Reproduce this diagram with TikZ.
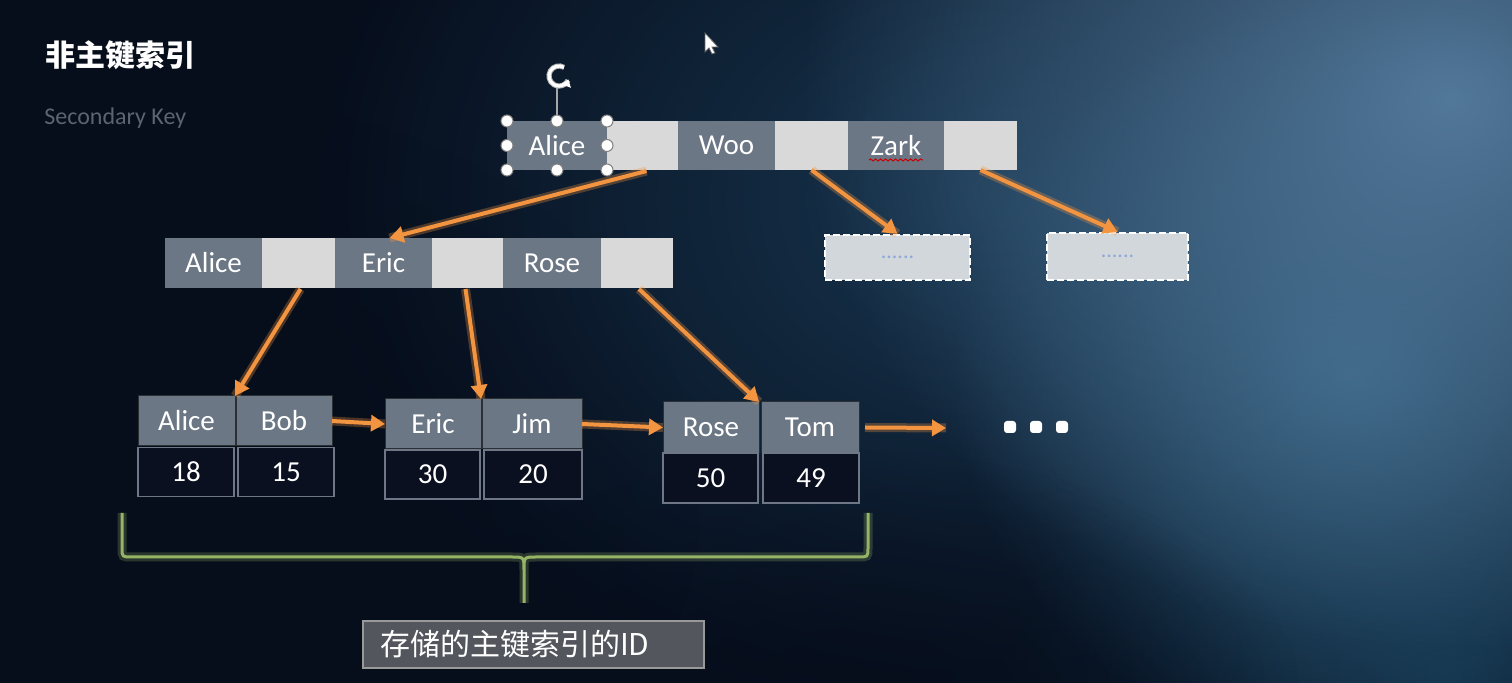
\documentclass[tikz,border=0pt]{standalone}
\usepackage{fontspec}
\setmainfont{Carlito}
\newfontfamily\cjk{Noto Sans CJK SC}
\usetikzlibrary{arrows.meta,calc,fadings,decorations.pathmorphing}

\tikzfading[name=softblob, inner color=transparent!0, outer color=transparent!100]

\definecolor{bgbase}{HTML}{060D1B}
\definecolor{bgglow}{HTML}{52789A}
\definecolor{bgmid}{HTML}{183650}
\definecolor{bgteal}{HTML}{33607F}
\definecolor{bgdeep}{HTML}{12324A}
\definecolor{cellgray}{HTML}{6B7785}
\definecolor{celllight}{HTML}{D9D9D9}
\definecolor{numfill}{HTML}{0A1020}
\definecolor{numline}{HTML}{6E7785}
\definecolor{arrowor}{HTML}{F39440}
\definecolor{bracegreen}{HTML}{96B466}
\definecolor{labelfill}{HTML}{53575D}
\definecolor{subgray}{HTML}{5C6472}
\definecolor{dotblue}{HTML}{8EA8D8}
\definecolor{dashfill}{HTML}{D2D7DC}

\begin{document}
\begin{tikzpicture}[x=0.5pt,y=-0.5pt,
  sz/.style 2 args={minimum width=#1*0.5pt, minimum height=#2*0.5pt},
  cell/.style={inner sep=0pt, outer sep=0pt, text=white,
    font=\fontsize{14.5}{16}\selectfont},
  gcell/.style={cell, fill=cellgray},
  lgcell/.style={cell, fill=cellgray, draw=black!60!cellgray, line width=0.5pt},
  lcell/.style={cell, fill=celllight},
  ncell/.style={cell, fill=numfill, draw=numline, line width=0.8pt},
  dashbox/.style={inner sep=0pt, fill=dashfill, draw=white, line width=1.2pt,
    dash pattern=on 3.5pt off 1.5pt, text=dotblue, font=\fontsize{11}{12}\selectfont},
  link/.style={draw=arrowor, line width=2pt,
    -{Triangle[length=7pt,width=8pt]},
    preaction={draw=arrowor, line width=4.5pt, opacity=0.3, -}},
  handle/.style={circle, fill=white, draw=gray, line width=0.5pt,
    inner sep=0pt, minimum size=6pt},
  moredot/.style={fill=white, rounded corners=1.5pt, inner sep=0pt, minimum size=6pt}
]
\useasboundingbox (0,0) rectangle (1512,683);

% ---- background ----
\fill[bgbase] (0,0) rectangle (1512,683);
\fill[bgmid, path fading=softblob] (300,-350) rectangle (1700,750);
\fill[bgdeep, path fading=softblob] (1000,350) rectangle (1900,1000);
\fill[bgteal, path fading=softblob] (950,0) rectangle (1750,750);
\fill[bgglow, path fading=softblob] (800,-450) rectangle (2100,650);
\fill[bgbase, opacity=0.8, path fading=softblob] (400,450) rectangle (1300,950);
\fill[bgbase, opacity=0.8, path fading=softblob] (-300,100) rectangle (700,900);

% ---- title ----
\node[anchor=west, inner sep=0pt, text=white,
  font=\cjk\bfseries\fontsize{15}{18}\selectfont]
  (title) at (45,55) {非主键索引};
\node[anchor=base west, inner sep=0pt, text=subgray, font=\fontsize{12}{14}\selectfont]
  (subtitle) at (44,125) {Secondary Key};

% ---- root node ----
\node[gcell, sz={100}{49}] (tAlice) at (557,145.5) {Alice};
\node[lcell, sz={71}{49}]  (tb1)    at (642.5,145.5) {};
\node[gcell, sz={97}{49}]  (tWoo)   at (726.5,145.5) {Woo};
\node[lcell, sz={73}{49}]  (tb2)    at (811.5,145.5) {};
\node[gcell, sz={96}{49}]  (tZark)  at (896,145.5) {Zark};
\node[lcell, sz={73}{49}]  (tb3)    at (980.5,145.5) {};
\draw[red!80!black, line width=0.5pt,
  decorate, decoration={snake, amplitude=0.5pt, segment length=2.5pt}]
  ($(tZark.south)+(-27,-10)$) -- ($(tZark.south)+(27,-10)$);

% ---- inner node ----
\node[gcell, sz={97}{50}] (mAlice) at (213.5,263) {Alice};
\node[lcell, sz={73}{50}] (mb1)    at (298.5,263) {};
\node[gcell, sz={97}{50}] (mEric)  at (383.5,263) {Eric};
\node[lcell, sz={71}{50}] (mb2)    at (467.5,263) {};
\node[gcell, sz={98}{50}] (mRose)  at (552,263) {Rose};
\node[lcell, sz={72}{50}] (mb3)    at (637,263) {};

% ---- unexpanded children ----
\node[dashbox, sz={145}{45}] (d1) at (897.5,257.5) {......};
\node[dashbox, sz={141}{47}] (d2) at (1117.5,256.5) {......};

% ---- leaves ----
\node[lgcell, sz={97}{50}] (lAlice) at (186.5,421) {Alice};
\node[lgcell, sz={96}{50}] (lBob)   at (284,421) {Bob};
\node[ncell, sz={96}{49}]  (n18)    at (186,472) {18};
\node[ncell, sz={96}{49}]  (n15)    at (286,472) {15};

\node[lgcell, sz={96}{50}] (lEric) at (433,424) {Eric};
\node[lgcell, sz={100}{50}] (lJim) at (532,424) {Jim};
\node[ncell, sz={95}{49}]  (n30)   at (432.5,474.5) {30};
\node[ncell, sz={98}{49}]  (n20)   at (533,474.5) {20};

\node[lgcell, sz={96}{51}] (lRose) at (711,427.5) {Rose};
\node[lgcell, sz={98}{51}] (lTom)  at (810,427.5) {Tom};
\node[ncell, sz={95}{50}]  (n50)   at (710.5,478) {50};
\node[ncell, sz={96}{50}]  (n49)   at (811,478) {49};

\coordinate (tailEnd) at (946,428);
\node[moredot] (dotA) at (1010,427) {};
\node[moredot] (dotB) at (1036,427) {};
\node[moredot] (dotC) at (1062,427) {};

% ---- pointers ----
\draw[link] ($(tb1.south)+(4,1)$) -- ($(mEric.north)+(6,0)$);
\draw[link] (tb2.south) -- (d1.north);
\draw[link] (tb3.south) -- (d2.north);
\draw[link] ($(mb1.south)+(2,1)$) -- (lAlice.north east);
\draw[link] ($(mb2.south)+(-2,1)$) -- (lEric.north east);
\draw[link] ($(mb3.south)+(2,1)$) -- (lRose.north east);
\draw[link] (lBob.east) -- (lEric.west);
\draw[link] (lJim.east) -- (lRose.west);
\draw[link] ($(lTom.east)+(6,0)$) -- (tailEnd);

% ---- brace over the leaf values ----
\coordinate (bL) at (122,513);
\coordinate (bR) at (868,513);
\coordinate (bTip) at (524,603);
\draw[bracegreen, line width=1.5pt, line join=round,
  preaction={draw=bracegreen, line width=4.5pt, opacity=0.25}]
  (bL) -- (122,548) .. controls (122,557) .. (132,557) -- (512,557)
  .. controls (524,557) .. (524,570) -- (bTip)
  (524,570) .. controls (524,557) .. (536,557) -- (858,557)
  .. controls (868,557) .. (868,548) -- (bR);

\node[fill=labelfill, draw=gray!80, line width=0.6pt, inner ysep=0pt,
  inner xsep=8.5pt, sz={341}{47}, text width=153.5pt, align=left,
  text=white, font=\cjk\fontsize{15}{18}\selectfont]
  (idlabel) at (533.5,644.5) {存储的主键索引的ID};

% ---- selection handles on the root key ----
\draw[gray!70, line width=0.6pt] (tAlice.north) -- ++(0,-34) coordinate (rotStem);
\coordinate (rotC) at ($(rotStem)+(2,-11)$);
\draw[gray!60, line width=2.6pt]
  ($(rotC)+(-60:10)$) arc[start angle=-60, end angle=-335, radius=10];
\draw[white, line width=1.6pt, -{Triangle[length=3.5pt,width=5pt]}]
  ($(rotC)+(-60:10)$) arc[start angle=-60, end angle=-340, radius=10];
\foreach \a in {north west,north,north east,west,east,south west,south,south east}
  \node[handle] at (tAlice.\a) {};

% ---- mouse pointer ----
\fill[white, draw=black!60, line width=0.4pt]
  (705,33) -- (705,52) -- (709,48) -- (712,54) -- (715,53) -- (712,47) -- (718,47) -- cycle;
\end{tikzpicture}
\end{document}
